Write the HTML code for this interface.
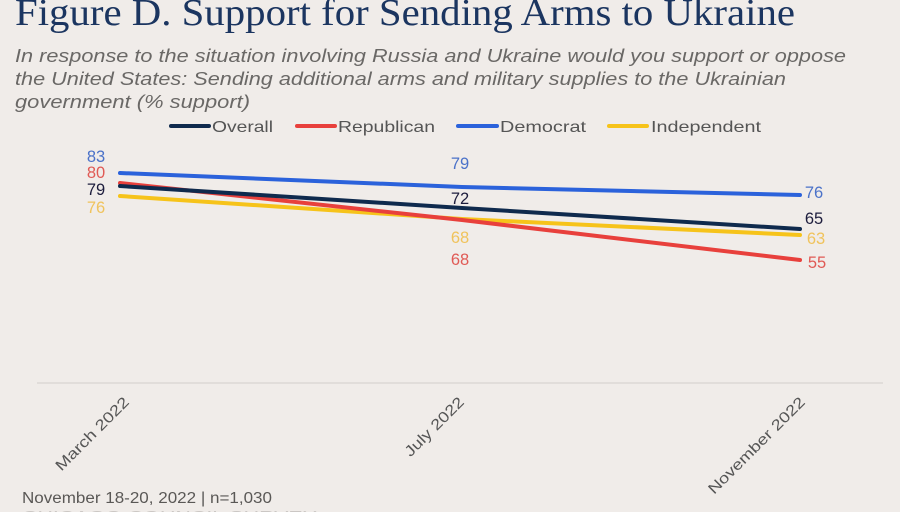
<!DOCTYPE html>
<html><head><meta charset="utf-8"><style>
html,body{margin:0;padding:0;background:#f0ece9;}
body{width:900px;height:512px;overflow:hidden;position:relative;}
svg{position:absolute;left:0;top:0;}
</style></head><body>
<svg width="900" height="512" viewBox="0 0 900 512" xmlns="http://www.w3.org/2000/svg">
<rect width="900" height="512" fill="#f0ece9"/>
<text x="15" y="25" font-family="Liberation Serif, serif" font-size="38" fill="#1b3560" textLength="780" lengthAdjust="spacingAndGlyphs">Figure D. Support for Sending Arms to Ukraine</text>
<g font-family="Liberation Sans, sans-serif" font-style="italic" font-size="18.5" fill="#6a6866">
<text x="15" y="62" textLength="831" lengthAdjust="spacingAndGlyphs">In response to the situation involving Russia and Ukraine would you support or oppose</text>
<text x="15" y="85" textLength="771" lengthAdjust="spacingAndGlyphs">the United States: Sending additional arms and military supplies to the Ukrainian</text>
<text x="15" y="108" textLength="235" lengthAdjust="spacingAndGlyphs">government (% support)</text>
</g>
<g stroke-width="4" stroke-linecap="round">
<line x1="171" y1="126" x2="209" y2="126" stroke="#0f2a4d"/>
<line x1="297" y1="126" x2="335" y2="126" stroke="#e8403c"/>
<line x1="458" y1="126" x2="497" y2="126" stroke="#2b62db"/>
<line x1="609" y1="126" x2="647" y2="126" stroke="#f6c31a"/>
</g>
<g font-family="Liberation Sans, sans-serif" font-size="16" fill="#555">
<text x="212" y="132" textLength="61" lengthAdjust="spacingAndGlyphs">Overall</text>
<text x="338" y="132" textLength="97" lengthAdjust="spacingAndGlyphs">Republican</text>
<text x="500" y="132" textLength="86" lengthAdjust="spacingAndGlyphs">Democrat</text>
<text x="651" y="132" textLength="110" lengthAdjust="spacingAndGlyphs">Independent</text>
</g>
<line x1="37" y1="383" x2="883" y2="383" stroke="#dcd8d5" stroke-width="1.5"/>
<g fill="none" stroke-width="4" stroke-linecap="round">
<polyline points="120,173 462,187 800,195" stroke="#2b62db"/>
<polyline points="120,196 462,219 800,235" stroke="#f6c31a"/>
<polyline points="120,183 462,220 800,260" stroke="#e8403c"/>
<polyline points="120,186 462,208 800,229" stroke="#0f2a4d"/>
</g>
<g font-family="Liberation Sans, sans-serif" font-size="16.5" text-anchor="middle">
<text x="96" y="162" fill="#4b72c9">83</text>
<text x="96" y="178" fill="#e05a55">80</text>
<text x="96" y="195" fill="#1d1d3d">79</text>
<text x="96" y="213" fill="#f0c35c">76</text>
<text x="460" y="169" fill="#4b72c9">79</text>
<text x="460" y="204" fill="#1d1d3d">72</text>
<text x="460" y="243" fill="#f0c35c">68</text>
<text x="460" y="265" fill="#e05a55">68</text>
<text x="814" y="198" fill="#4b72c9">76</text>
<text x="814" y="224" fill="#1d1d3d">65</text>
<text x="816" y="244" fill="#f0c35c">63</text>
<text x="817" y="268" fill="#e05a55">55</text>
</g>
<g font-family="Liberation Sans, sans-serif" font-size="15" fill="#555" text-anchor="end">
<text transform="translate(130,403) rotate(-45)" textLength="97" lengthAdjust="spacingAndGlyphs">March 2022</text>
<text transform="translate(465,403) rotate(-45)" textLength="77" lengthAdjust="spacingAndGlyphs">July 2022</text>
<text transform="translate(806,403) rotate(-45)" textLength="130" lengthAdjust="spacingAndGlyphs">November 2022</text>
</g>
<text x="22" y="503" font-family="Liberation Sans, sans-serif" font-size="15.5" fill="#5a5856" textLength="250" lengthAdjust="spacingAndGlyphs">November 18-20, 2022 | n=1,030</text>
<text x="22" y="521" font-family="Liberation Sans, sans-serif" font-size="15" fill="#cbc7c4" textLength="295" lengthAdjust="spacingAndGlyphs">CHICAGO COUNCIL SURVEY</text>
</svg>
</body></html>
